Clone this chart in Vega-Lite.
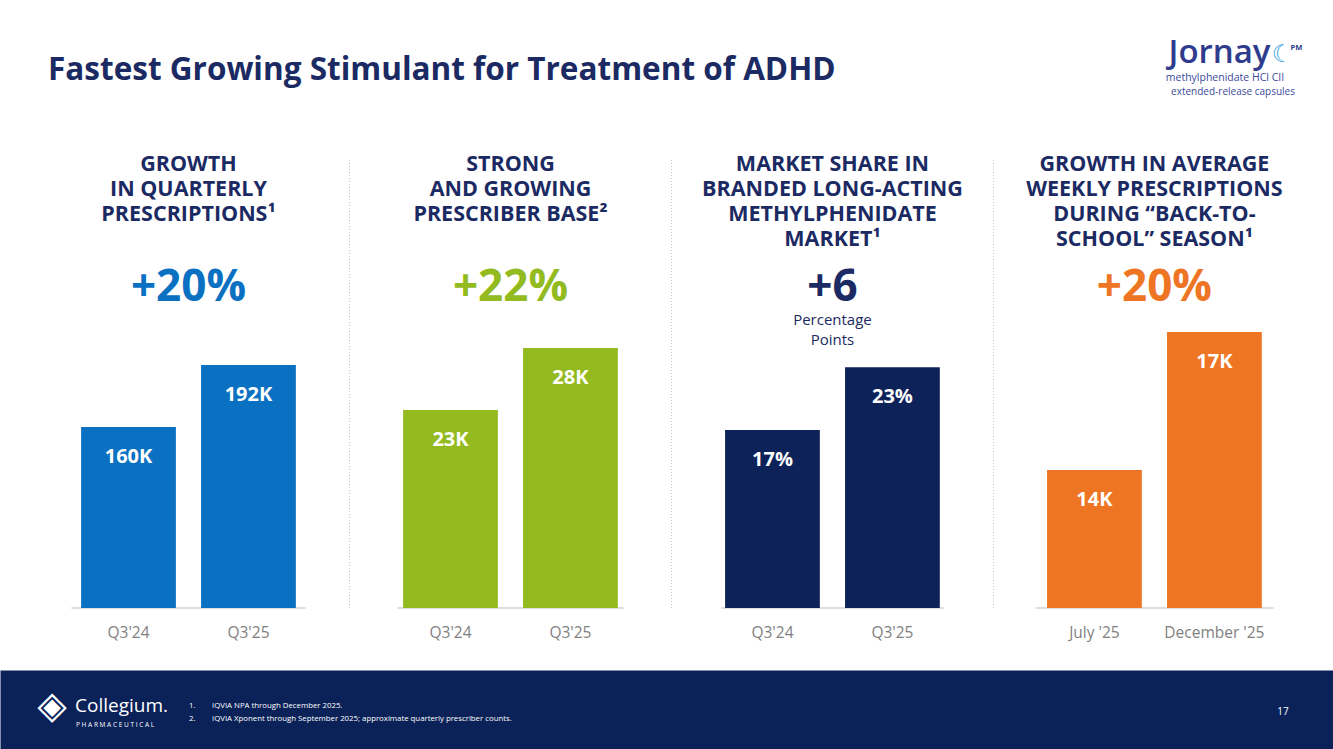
{
  "$schema": "https://vega.github.io/schema/vega-lite/v6.json",
  "width": 1333,
  "height": 448,
  "autosize": {"type": "none"},
  "padding": {"left": 0, "right": 0, "top": 160, "bottom": 141},
  "background": "#ffffff",
  "config": {"view": {"stroke": null}, "font": "Open Sans", "text": {"font": "Open Sans"}},
  "datasets": {
    "bars": [
      {"panel": "Quarterly prescriptions", "period": "Q3'24", "value": 160000, "label": "160K"},
      {"panel": "Quarterly prescriptions", "period": "Q3'25", "value": 192000, "label": "192K"},
      {"panel": "Prescriber base", "period": "Q3'24", "value": 23000, "label": "23K"},
      {"panel": "Prescriber base", "period": "Q3'25", "value": 28000, "label": "28K"},
      {"panel": "Market share", "period": "Q3'24", "value": 17, "label": "17%"},
      {"panel": "Market share", "period": "Q3'25", "value": 23, "label": "23%"},
      {"panel": "Back-to-school", "period": "July '25", "value": 14000, "label": "14K"},
      {"panel": "Back-to-school", "period": "December '25", "value": 17000, "label": "17K"}
    ],
    "panels": [
      {"panel": "Quarterly prescriptions", "heading": "GROWTH\nIN QUARTERLY\nPRESCRIPTIONS¹", "change": "+20%", "note": ""},
      {"panel": "Prescriber base", "heading": "STRONG\nAND GROWING\nPRESCRIBER BASE²", "change": "+22%", "note": ""},
      {"panel": "Market share", "heading": "MARKET SHARE IN\nBRANDED LONG-ACTING\nMETHYLPHENIDATE\nMARKET¹", "change": "+6", "note": "Percentage\nPoints"},
      {"panel": "Back-to-school", "heading": "GROWTH IN AVERAGE\nWEEKLY PRESCRIPTIONS\nDURING “BACK-TO-\nSCHOOL” SEASON¹", "change": "+20%", "note": ""}
    ],
    "slide": [
      {"title": "Fastest Growing Stimulant for Treatment of ADHD", "brand": "Jornay", "moon": "☾", "brandSup": "PM", "generic": "methylphenidate HCl CII", "form": "extended-release capsules", "company": "Collegium.", "companySub": "P H A R M A C E U T I C A L", "icon": "◈", "numbers": "1.\n2.", "notes": "IQVIA NPA through December 2025.\nIQVIA Xponent through September 2025; approximate quarterly prescriber counts.", "page": "17"}
    ]
  },
  "data": {"name": "bars"},
  "layer": [
    {
      "transform": [{"filter": "datum.panel === 'Quarterly prescriptions'"}],
      "encoding": {
        "x": {"field": "panel", "type": "nominal", "scale": {"domain": ["Quarterly prescriptions", "Prescriber base", "Market share", "Back-to-school"], "paddingOuter": 0.07, "paddingInner": 0, "align": 0.61},
          "axis": {"orient": "bottom", "offset": 101.5, "domain": true, "domainColor": "#0b2259", "domainWidth": 79, "domainCap": "butt", "labels": false, "ticks": false, "grid": false, "title": null, "zindex": 0}}
      },
      "layer": [
        {"mark": {"type": "tick", "orient": "horizontal", "size": 234, "thickness": 1.5, "color": "#d4d4d4"},
         "encoding": {"y": {"datum": 66600, "type": "quantitative", "scale": {"domain": [66600, 297800], "zero": false, "clamp": true}, "axis": null}}},
        {"mark": {"type": "bar", "color": "#0a70c1"},
         "encoding": {"xOffset": {"field": "period", "type": "nominal", "sort": null, "scale": {"paddingInner": 0.21, "paddingOuter": 0.447}},
           "y": {"field": "value", "type": "quantitative", "scale": {"domain": [66600, 297800], "zero": false, "clamp": true}, "axis": null}}},
        {"mark": {"type": "text", "dy": 30, "fontSize": 20, "fontWeight": "bold", "color": "#ffffff"},
         "encoding": {"xOffset": {"field": "period", "type": "nominal", "sort": null, "scale": {"paddingInner": 0.21, "paddingOuter": 0.447}},
           "y": {"field": "value", "type": "quantitative", "scale": {"domain": [66600, 297800], "zero": false, "clamp": true}, "axis": null}, "text": {"field": "label"}}},
        {"mark": {"type": "text", "dy": 249, "fontSize": 15.5, "color": "#7f7f7f"},
         "encoding": {"xOffset": {"field": "period", "type": "nominal", "sort": null, "scale": {"paddingInner": 0.21, "paddingOuter": 0.447}}, "text": {"field": "period"}}}
      ]
    },
    {
      "transform": [{"filter": "datum.panel === 'Prescriber base'"}],
      "encoding": {
        "x": {"field": "panel", "type": "nominal", "scale": {"domain": ["Quarterly prescriptions", "Prescriber base", "Market share", "Back-to-school"], "paddingOuter": 0.07, "paddingInner": 0, "align": 0.61}}
      },
      "layer": [
        {"mark": {"type": "tick", "orient": "horizontal", "size": 226, "thickness": 1.5, "color": "#d4d4d4"},
         "encoding": {"y": {"datum": 7030, "type": "quantitative", "scale": {"domain": [7030, 43160], "zero": false, "clamp": true}, "axis": null}}},
        {"mark": {"type": "bar", "color": "#93ba1f"},
         "encoding": {"xOffset": {"field": "period", "type": "nominal", "sort": null, "scale": {"paddingInner": 0.21, "paddingOuter": 0.447}},
           "y": {"field": "value", "type": "quantitative", "scale": {"domain": [7030, 43160], "zero": false, "clamp": true}, "axis": null}}},
        {"mark": {"type": "text", "dy": 30, "fontSize": 20, "fontWeight": "bold", "color": "#ffffff"},
         "encoding": {"xOffset": {"field": "period", "type": "nominal", "sort": null, "scale": {"paddingInner": 0.21, "paddingOuter": 0.447}},
           "y": {"field": "value", "type": "quantitative", "scale": {"domain": [7030, 43160], "zero": false, "clamp": true}, "axis": null}, "text": {"field": "label"}}},
        {"mark": {"type": "text", "dy": 249, "fontSize": 15.5, "color": "#7f7f7f"},
         "encoding": {"xOffset": {"field": "period", "type": "nominal", "sort": null, "scale": {"paddingInner": 0.21, "paddingOuter": 0.447}}, "text": {"field": "period"}}}
      ]
    },
    {
      "transform": [{"filter": "datum.panel === 'Market share'"}],
      "encoding": {
        "x": {"field": "panel", "type": "nominal", "scale": {"domain": ["Quarterly prescriptions", "Prescriber base", "Market share", "Back-to-school"], "paddingOuter": 0.07, "paddingInner": 0, "align": 0.61}}
      },
      "layer": [
        {"mark": {"type": "tick", "orient": "horizontal", "size": 222, "thickness": 1.5, "color": "#d4d4d4"},
         "encoding": {"y": {"datum": 0, "type": "quantitative", "scale": {"domain": [0, 42.8]}, "axis": null}}},
        {"mark": {"type": "bar", "color": "#0d2258"},
         "encoding": {"xOffset": {"field": "period", "type": "nominal", "sort": null, "scale": {"paddingInner": 0.21, "paddingOuter": 0.447}},
           "y": {"field": "value", "type": "quantitative", "scale": {"domain": [0, 42.8]}, "axis": null}}},
        {"mark": {"type": "text", "dy": 30, "fontSize": 20, "fontWeight": "bold", "color": "#ffffff"},
         "encoding": {"xOffset": {"field": "period", "type": "nominal", "sort": null, "scale": {"paddingInner": 0.21, "paddingOuter": 0.447}},
           "y": {"field": "value", "type": "quantitative", "scale": {"domain": [0, 42.8]}, "axis": null}, "text": {"field": "label"}}},
        {"mark": {"type": "text", "dy": 249, "fontSize": 15.5, "color": "#7f7f7f"},
         "encoding": {"xOffset": {"field": "period", "type": "nominal", "sort": null, "scale": {"paddingInner": 0.21, "paddingOuter": 0.447}}, "text": {"field": "period"}}}
      ]
    },
    {
      "transform": [{"filter": "datum.panel === 'Back-to-school'"}],
      "encoding": {
        "x": {"field": "panel", "type": "nominal", "scale": {"domain": ["Quarterly prescriptions", "Prescriber base", "Market share", "Back-to-school"], "paddingOuter": 0.07, "paddingInner": 0, "align": 0.61}}
      },
      "layer": [
        {"mark": {"type": "tick", "orient": "horizontal", "size": 238, "thickness": 1.5, "color": "#d4d4d4"},
         "encoding": {"y": {"datum": 11000, "type": "quantitative", "scale": {"domain": [11000, 20740], "zero": false, "clamp": true}, "axis": null}}},
        {"mark": {"type": "bar", "color": "#ee7524"},
         "encoding": {"xOffset": {"field": "period", "type": "nominal", "sort": null, "scale": {"paddingInner": 0.21, "paddingOuter": 0.447}},
           "y": {"field": "value", "type": "quantitative", "scale": {"domain": [11000, 20740], "zero": false, "clamp": true}, "axis": null}}},
        {"mark": {"type": "text", "dy": 30, "fontSize": 20, "fontWeight": "bold", "color": "#ffffff"},
         "encoding": {"xOffset": {"field": "period", "type": "nominal", "sort": null, "scale": {"paddingInner": 0.21, "paddingOuter": 0.447}},
           "y": {"field": "value", "type": "quantitative", "scale": {"domain": [11000, 20740], "zero": false, "clamp": true}, "axis": null}, "text": {"field": "label"}}},
        {"mark": {"type": "text", "dy": 249, "fontSize": 15.5, "color": "#7f7f7f"},
         "encoding": {"xOffset": {"field": "period", "type": "nominal", "sort": null, "scale": {"paddingInner": 0.21, "paddingOuter": 0.447}}, "text": {"field": "period"}}}
      ]
    },
    {
      "data": {"name": "panels"},
      "transform": [{"filter": "datum.panel !== 'Quarterly prescriptions'"}],
      "mark": {"type": "rule", "color": "#c4c4c4", "strokeDash": [1, 2], "strokeWidth": 1},
      "encoding": {"x": {"field": "panel", "type": "nominal", "bandPosition": 0, "scale": {"domain": ["Quarterly prescriptions", "Prescriber base", "Market share", "Back-to-school"], "paddingOuter": 0.07, "paddingInner": 0, "align": 0.61}}}
    },
    {
      "data": {"name": "panels"},
      "mark": {"type": "text", "align": "center", "baseline": "top", "dy": -230, "fontSize": 21.5, "fontWeight": "bold", "color": "#1b2a63", "lineBreak": "\n", "lineHeight": 25},
      "encoding": {
        "x": {"field": "panel", "type": "nominal", "scale": {"domain": ["Quarterly prescriptions", "Prescriber base", "Market share", "Back-to-school"], "paddingOuter": 0.07, "paddingInner": 0, "align": 0.61}},
        "text": {"field": "heading"}
      }
    },
    {
      "data": {"name": "panels"},
      "mark": {"type": "text", "align": "center", "baseline": "alphabetic", "dy": -83, "fontSize": 44, "fontWeight": "bold"},
      "encoding": {
        "x": {"field": "panel", "type": "nominal", "scale": {"domain": ["Quarterly prescriptions", "Prescriber base", "Market share", "Back-to-school"], "paddingOuter": 0.07, "paddingInner": 0, "align": 0.61}},
        "text": {"field": "change"},
        "color": {"field": "panel", "type": "nominal", "legend": null, "scale": {"domain": ["Quarterly prescriptions", "Prescriber base", "Market share", "Back-to-school"], "range": ["#0a70c1", "#93ba1f", "#1b2a63", "#ee7524"]}}
      }
    },
    {
      "data": {"name": "panels"},
      "mark": {"type": "text", "align": "center", "baseline": "alphabetic", "dy": -59, "fontSize": 15, "color": "#1b2a63", "lineBreak": "\n", "lineHeight": 20},
      "encoding": {
        "x": {"field": "panel", "type": "nominal", "scale": {"domain": ["Quarterly prescriptions", "Prescriber base", "Market share", "Back-to-school"], "paddingOuter": 0.07, "paddingInner": 0, "align": 0.61}},
        "text": {"field": "note"}
      }
    },
    {
      "data": {"name": "slide"},
      "mark": {"type": "text", "align": "left", "baseline": "alphabetic", "dx": -618.5, "dy": -304, "fontSize": 31.5, "fontWeight": "bold", "color": "#1b2a63"},
      "encoding": {"text": {"field": "title"}}
    },
    {
      "data": {"name": "slide"},
      "mark": {"type": "text", "align": "center", "baseline": "alphabetic", "dx": 553, "dy": -321, "fontSize": 33, "fontWeight": 600, "color": "#2f3b8c"},
      "encoding": {"text": {"field": "brand"}}
    },
    {
      "data": {"name": "slide"},
      "mark": {"type": "text", "align": "center", "baseline": "alphabetic", "dx": 616, "dy": -322, "fontSize": 24, "font": "DejaVu Sans", "fontWeight": "bold", "color": "#3ea7e1"},
      "encoding": {"text": {"field": "moon"}}
    },
    {
      "data": {"name": "slide"},
      "mark": {"type": "text", "align": "left", "baseline": "alphabetic", "dx": 624, "dy": -334, "fontSize": 7.5, "fontWeight": "bold", "color": "#2f3b8c"},
      "encoding": {"text": {"field": "brandSup"}}
    },
    {
      "data": {"name": "slide"},
      "mark": {"type": "text", "align": "center", "baseline": "alphabetic", "dx": 558.5, "dy": -303, "fontSize": 10.5, "color": "#3b4a9c"},
      "encoding": {"text": {"field": "generic"}}
    },
    {
      "data": {"name": "slide"},
      "mark": {"type": "text", "align": "center", "baseline": "alphabetic", "dx": 566.5, "dy": -289, "fontSize": 10, "color": "#3b4a9c"},
      "encoding": {"text": {"field": "form"}}
    },
    {
      "data": {"name": "slide"},
      "mark": {"type": "text", "align": "center", "baseline": "middle", "dx": -614.5, "dy": 323, "fontSize": 38, "font": "DejaVu Sans", "color": "#ffffff"},
      "encoding": {"text": {"field": "icon"}}
    },
    {
      "data": {"name": "slide"},
      "mark": {"type": "text", "align": "left", "baseline": "alphabetic", "dx": -591.5, "dy": 328, "fontSize": 19, "color": "#ffffff"},
      "encoding": {"text": {"field": "company"}}
    },
    {
      "data": {"name": "slide"},
      "mark": {"type": "text", "align": "left", "baseline": "alphabetic", "dx": -590.5, "dy": 343, "fontSize": 6.5, "color": "#ffffff"},
      "encoding": {"text": {"field": "companySub"}}
    },
    {
      "data": {"name": "slide"},
      "mark": {"type": "text", "align": "left", "baseline": "alphabetic", "dx": -477.5, "dy": 324, "fontSize": 7.8, "color": "#ffffff", "lineBreak": "\n", "lineHeight": 13},
      "encoding": {"text": {"field": "numbers"}}
    },
    {
      "data": {"name": "slide"},
      "mark": {"type": "text", "align": "left", "baseline": "alphabetic", "dx": -454.5, "dy": 324, "fontSize": 7.8, "color": "#ffffff", "lineBreak": "\n", "lineHeight": 13},
      "encoding": {"text": {"field": "notes"}}
    },
    {
      "data": {"name": "slide"},
      "mark": {"type": "text", "align": "center", "baseline": "alphabetic", "dx": 616.5, "dy": 331, "fontSize": 10, "color": "#ffffff"},
      "encoding": {"text": {"field": "page"}}
    }
  ],
  "resolve": {"scale": {"y": "independent", "xOffset": "independent"}}
}
